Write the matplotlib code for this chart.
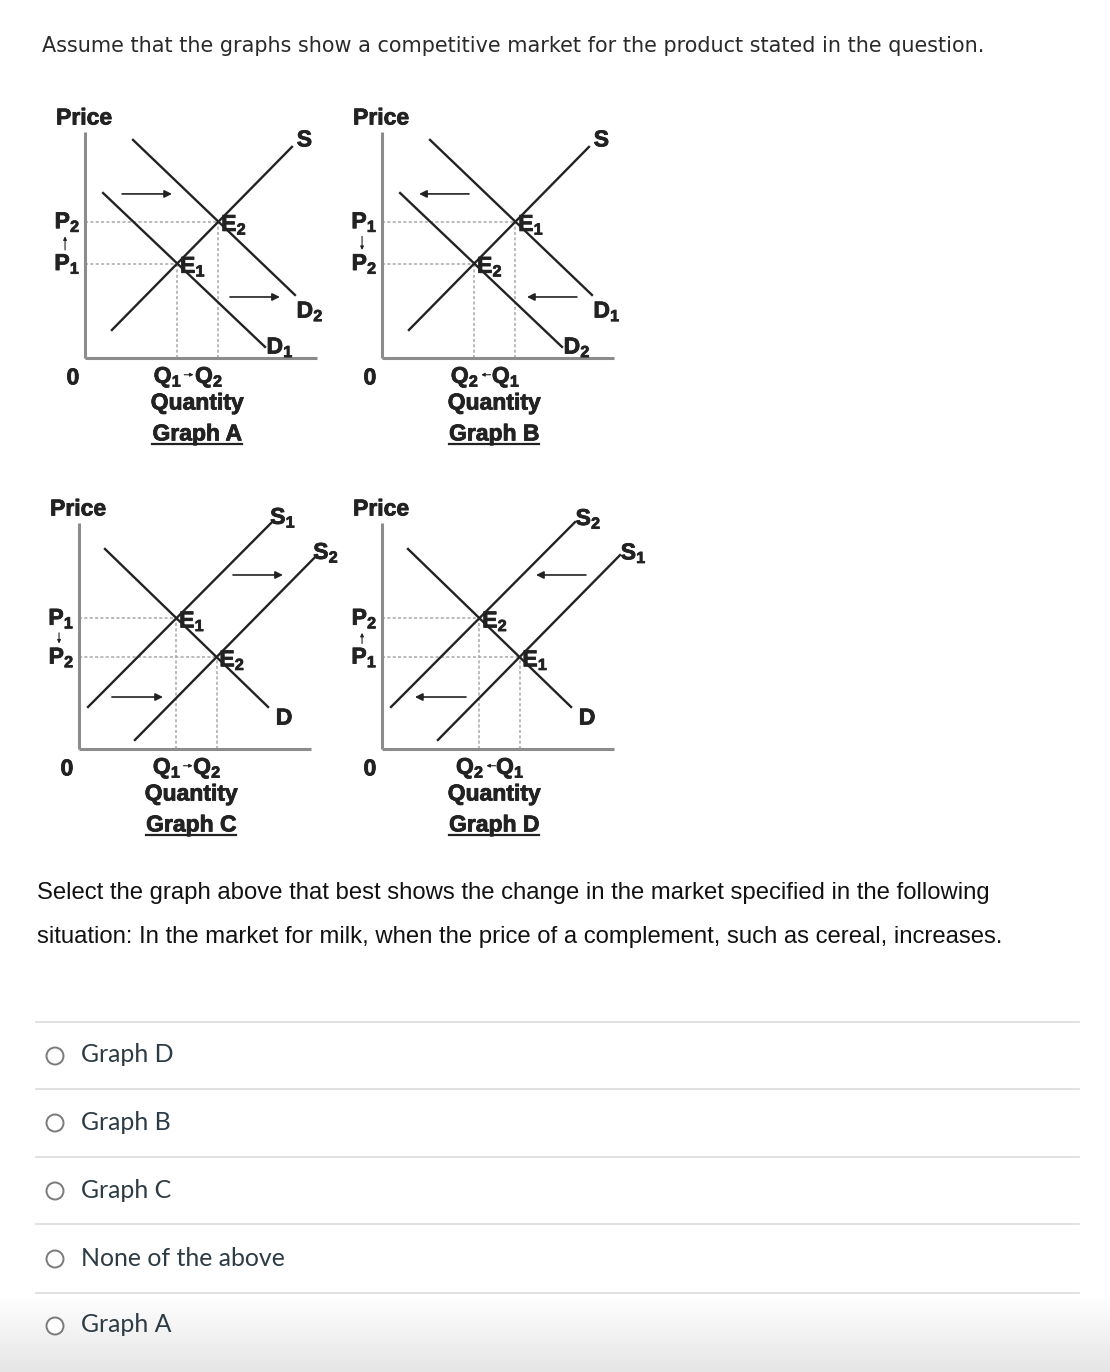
import numpy as np
import matplotlib.pyplot as plt
import matplotlib.patheffects as pe
from matplotlib.patches import Circle

# Page size in pixels
W, H = 1110, 1372
DPI = 100

plt.rcParams['mathtext.fontset'] = 'custom'
plt.rcParams['mathtext.rm'] = 'Liberation Sans:bold'
plt.rcParams['mathtext.it'] = 'Liberation Sans:bold'
plt.rcParams['mathtext.bf'] = 'Liberation Sans:bold'

# Text content
HEADER = 'Assume that the graphs show a competitive market for the product stated in the question.'
QUESTION = ['Select the graph above that best shows the change in the market specified in the following',
            'situation: In the market for milk, when the price of a complement, such as cereal, increases.']
OPTIONS = ['Graph D', 'Graph B', 'Graph C', 'None of the above', 'Graph A']

# Upper pair of graphs (A, B): one supply curve, demand shifts. Curves as (xs, ys) in graph units 0..10
TOP_SUPPLY = ([1.16, 8.92], [1.24, 9.34])
TOP_DEMAND_LEFT = ([0.78, 7.76], [7.30, 0.49])
TOP_DEMAND_RIGHT = ([2.07, 9.05], [9.65, 2.79])
TOP_ARROWS = [((1.60, 3.75), 7.26), ((6.25, 8.40), 2.70)]

# Lower pair of graphs (C, D): one demand curve, supply shifts
BOTTOM_DEMAND = ([1.12, 8.15], [8.85, 1.86])
BOTTOM_SUPPLY_LEFT = ([0.39, 8.32], [1.86, 10.04])
BOTTOM_SUPPLY_RIGHT = ([2.41, 10.26], [0.40, 8.58])
BOTTOM_ARROWS = [((6.64, 8.79), 7.70), ((1.42, 3.62), 2.30)]

# Graph definitions: origin of axes (pixels), curves with labels, which curves cross at E1 / E2
GRAPHS = [
    dict(name='Graph A', origin=(85, 358),
         curves=[(TOP_SUPPLY, 'S', (9.48, 9.65)),
                 (TOP_DEMAND_LEFT, 'D_1', (8.41, 0.49)),
                 (TOP_DEMAND_RIGHT, 'D_2', (9.70, 2.08))],
         e1=(0, 1), e2=(0, 2), arrows=TOP_ARROWS, direction=1),
    dict(name='Graph B', origin=(382, 358),
         curves=[(TOP_SUPPLY, 'S', (9.48, 9.65)),
                 (TOP_DEMAND_LEFT, 'D_2', (8.41, 0.49)),
                 (TOP_DEMAND_RIGHT, 'D_1', (9.70, 2.08))],
         e1=(0, 2), e2=(0, 1), arrows=TOP_ARROWS, direction=-1),
    dict(name='Graph C', origin=(79, 749),
         curves=[(BOTTOM_DEMAND, 'D', (8.86, 1.37)),
                 (BOTTOM_SUPPLY_LEFT, 'S_1', (8.80, 10.25)),
                 (BOTTOM_SUPPLY_RIGHT, 'S_2', (10.65, 8.70))],
         e1=(0, 1), e2=(0, 2), arrows=BOTTOM_ARROWS, direction=1),
    dict(name='Graph D', origin=(382, 749),
         curves=[(BOTTOM_DEMAND, 'D', (8.86, 1.37)),
                 (BOTTOM_SUPPLY_LEFT, 'S_2', (8.90, 10.20)),
                 (BOTTOM_SUPPLY_RIGHT, 'S_1', (10.85, 8.68))],
         e1=(0, 2), e2=(0, 1), arrows=BOTTOM_ARROWS, direction=-1),
]

GRAPH_W, GRAPH_H = 232, 226  # pixels spanned by 10 units
INK = '#222222'
AXIS_GREY = '#8c8c8c'
DASH_GREY = '#a8a8a8'
LABEL_SIZE = 16.5
HEAVY = [pe.withStroke(linewidth=0.6, foreground=INK)]


def intersect(c1, c2):
    """Intersection of two straight curves given by their end points"""
    (x1, y1), (x2, y2) = c1, c2
    m1 = (y1[1] - y1[0]) / (x1[1] - x1[0])
    m2 = (y2[1] - y2[0]) / (x2[1] - x2[0])
    b1 = y1[0] - m1 * x1[0]
    b2 = y2[0] - m2 * x2[0]
    x = (b2 - b1) / (m1 - m2)
    return x, m1 * x + b1


def small_arrow(ax, start, end, lw=1.0, scale=7):
    ax.annotate('', xy=end, xytext=start,
                arrowprops=dict(arrowstyle='-|>', lw=lw, color=INK,
                                mutation_scale=scale, shrinkA=0, shrinkB=0),
                annotation_clip=False)


def label(ax, x, y, s, ha='center', math=True):
    txt = rf'$\mathbf{{{s}}}$' if math else s
    return ax.text(x, y, txt, fontsize=LABEL_SIZE, fontweight='bold', family='Liberation Sans',
                   color=INK, ha=ha, va='center', path_effects=HEAVY)


def draw_graph(fig, g):
    ox, oy = g['origin']
    ax = fig.add_axes([ox / W, (H - oy) / H, GRAPH_W / W, GRAPH_H / H])
    ax.set_xlim(0, 10)
    ax.set_ylim(0, 10)
    ax.axis('off')

    # axes
    ax.plot([0, 0], [0, 10], color=AXIS_GREY, lw=2.2, clip_on=False, solid_capstyle='butt')
    ax.plot([0, 10], [0, 0], color=AXIS_GREY, lw=2.2, clip_on=False, solid_capstyle='butt')

    # curves and their labels
    for (xs, ys), name, (lx, ly) in g['curves']:
        ax.plot(xs, ys, color=INK, lw=1.7, clip_on=False)
        label(ax, lx, ly, name)

    curves = [c[0] for c in g['curves']]
    e1 = intersect(curves[g['e1'][0]], curves[g['e1'][1]])
    e2 = intersect(curves[g['e2'][0]], curves[g['e2'][1]])

    for (ex, ey), idx in [(e1, '1'), (e2, '2')]:
        ax.plot([0, ex], [ey, ey], color=DASH_GREY, lw=1.1, ls=(0, (2, 1.5)), clip_on=False, zorder=1)
        ax.plot([ex, ex], [0, ey], color=DASH_GREY, lw=1.1, ls=(0, (2, 1.5)), clip_on=False, zorder=1)
        label(ax, ex + 0.12, ey - 0.12, f'E_{idx}', ha='left')
        label(ax, -0.2, ey, f'P_{idx}', ha='right')
        label(ax, ex - 0.4, -0.84, f'Q_{idx}')

    # small arrows P1 -> P2 and Q1 -> Q2
    lo, hi = sorted([e1[1], e2[1]])
    p_pts = [(-0.86, lo + 0.6), (-0.86, hi - 0.65)]
    if e2[1] < e1[1]:
        p_pts = p_pts[::-1]
    small_arrow(ax, p_pts[0], p_pts[1], lw=0.8, scale=5)
    left = min(e1[0], e2[0])
    q_pts = [(left + 0.3, -0.74), (left + 0.7, -0.74)]
    if e2[0] < e1[0]:
        q_pts = q_pts[::-1]
    small_arrow(ax, q_pts[0], q_pts[1], lw=0.8, scale=5)

    # shift arrows
    for (xa, xb), y in g['arrows']:
        if g['direction'] > 0:
            small_arrow(ax, (xa, y), (xb, y), lw=1.2, scale=11)
        else:
            small_arrow(ax, (xb, y), (xa, y), lw=1.2, scale=11)

    label(ax, -0.04, 10.62, 'Price', math=False)
    label(ax, -0.52, -0.88, '0', math=False)
    label(ax, 4.83, -1.99, 'Quantity', math=False)
    return label(ax, 4.83, -3.36, g['name'], math=False)


def fit_width(t, renderer, width_px):
    bb = t.get_window_extent(renderer)
    t.set_fontsize(t.get_fontsize() * width_px / bb.width)


fig = plt.figure(figsize=(W / DPI, H / DPI), dpi=DPI)
page = fig.add_axes([0, 0, 1, 1])
page.set_xlim(0, W)
page.set_ylim(H, 0)
page.axis('off')

# bottom grey gradient
grad = np.linspace(1.0, 0.90, 64).reshape(-1, 1)
page.imshow(np.dstack([grad, grad, grad]), extent=[0, W, H, 1296], aspect='auto', zorder=0)

renderer = fig.canvas.get_renderer()

header = page.text(42, 46, HEADER, fontsize=14, family='DejaVu Sans', color='#2a2a2a', va='center')
fit_width(header, renderer, 943)

q1 = page.text(37, 893, QUESTION[0], fontsize=16, family='Liberation Sans', color='#111111', va='center')
q2 = page.text(37, 937, QUESTION[1], fontsize=16, family='Liberation Sans', color='#111111', va='center')
fit_width(q2, renderer, 968)
q1.set_fontsize(q2.get_fontsize())

# answer options
sep_y = [1021.5, 1089, 1156.5, 1224, 1292.5]
opt_y = [1055, 1122, 1190, 1258, 1325]
for y in sep_y:
    page.plot([36, 1079], [y, y], color='#dcdcdc', lw=1.2)
opt_texts = []
for y, s in zip(opt_y, OPTIONS):
    page.add_patch(Circle((55, y + 1), 8.5, facecolor='white', edgecolor='#7a7a7a', lw=1.4, zorder=3))
    opt_texts.append(page.text(81, y, s, fontsize=18, family='Lato', color='#2d3b45', va='center'))
fit_width(opt_texts[3], renderer, 204)
for t in opt_texts:
    t.set_fontsize(opt_texts[3].get_fontsize())

# the four supply/demand graphs
inv = page.transData.inverted()
for g in GRAPHS:
    name_text = draw_graph(fig, g)
    bb = name_text.get_window_extent(renderer)
    (x0, y0), (x1, _) = inv.transform([(bb.x0, bb.y0), (bb.x1, bb.y0)])
    page.plot([x0, x1], [y0 - 1, y0 - 1], color=INK, lw=1.6, zorder=5)

fig.savefig('out.png', dpi=DPI)
